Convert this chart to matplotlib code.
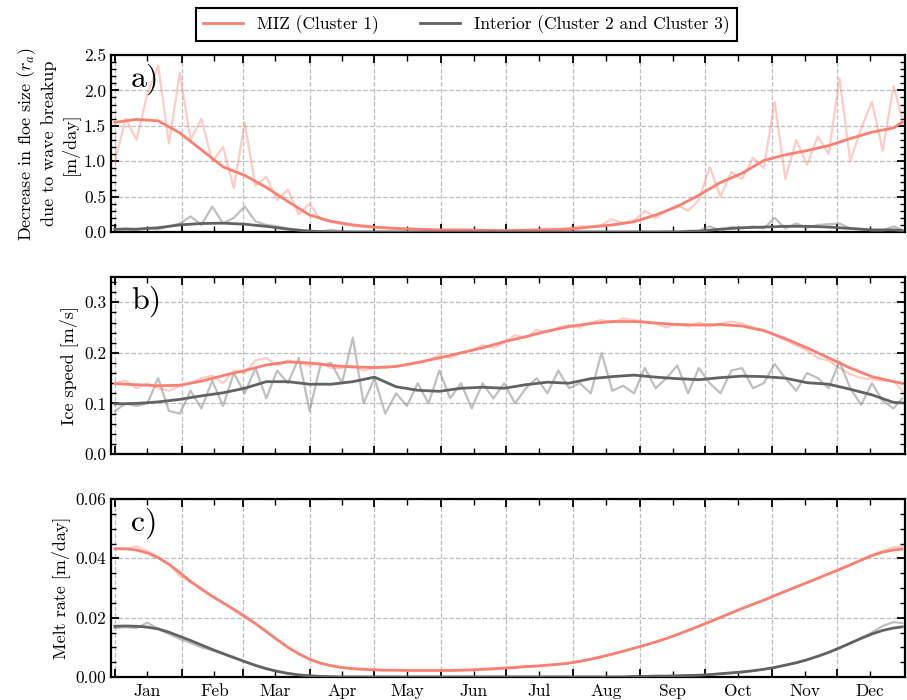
import numpy as np
import matplotlib
matplotlib.use("Agg")
import matplotlib.pyplot as plt
from matplotlib.ticker import AutoMinorLocator, FixedLocator, FixedFormatter, NullFormatter, MultipleLocator

plt.rcParams['font.family'] = 'serif'
plt.rcParams['font.serif'] = ['cmr10', 'DejaVu Serif']
plt.rcParams['mathtext.fontset'] = 'cm'
plt.rcParams['axes.formatter.use_mathtext'] = True

# ---------------- data ----------------
MONTHS = ['Jan', 'Feb', 'Mar', 'Apr', 'May', 'Jun', 'Jul', 'Aug', 'Sep', 'Oct', 'Nov', 'Dec']
MONTH_START = [0, 31, 59, 90, 120, 151, 181, 212, 243, 273, 304, 334]

DAYS_RAW = list(range(0, 361, 5)) + [364]
DAYS_SMOOTH = list(range(0, 361, 10)) + [364]

# a) decrease in floe size due to wave breakup [m/day]
miz_raw_a = [1.00, 1.60, 1.30, 1.95, 2.35, 1.25, 2.25, 1.30, 1.60, 1.00,
             1.20, 0.62, 1.55, 0.65, 0.78, 0.45, 0.60, 0.25, 0.40, 0.18,
             0.14, 0.11, 0.09, 0.07, 0.06, 0.05, 0.05, 0.04, 0.04, 0.03,
             0.03, 0.03, 0.03, 0.02, 0.03, 0.02, 0.02, 0.03, 0.03, 0.04,
             0.05, 0.04, 0.06, 0.08, 0.08, 0.10, 0.18, 0.12, 0.16, 0.30,
             0.20, 0.30, 0.38, 0.30, 0.45, 0.92, 0.50, 0.85, 0.75, 1.05,
             0.90, 1.84, 0.75, 1.30, 0.95, 1.35, 1.10, 2.17, 1.00, 1.46,
             1.84, 1.15, 2.06, 1.60]
int_raw_a = [0.03, 0.05, 0.03, 0.06, 0.04, 0.08, 0.12, 0.22, 0.10, 0.36,
             0.12, 0.20, 0.36, 0.15, 0.10, 0.08, 0.05, 0.03, 0.02, 0.01,
             0.03, 0.01, 0.00, 0.00, 0.00, 0.00, 0.00, 0.00, 0.00, 0.00,
             0.00, 0.00, 0.00, 0.00, 0.00, 0.00, 0.00, 0.00, 0.00, 0.00,
             0.00, 0.00, 0.00, 0.00, 0.00, 0.00, 0.00, 0.00, 0.00, 0.00,
             0.00, 0.01, 0.00, 0.02, 0.02, 0.08, 0.02, 0.07, 0.05, 0.08,
             0.05, 0.20, 0.05, 0.12, 0.06, 0.10, 0.11, 0.12, 0.05, 0.04,
             0.02, 0.02, 0.08, 0.03]
miz_smooth_a = [1.55, 1.59, 1.57, 1.40, 1.16, 0.92, 0.80, 0.63, 0.43, 0.24,
                0.15, 0.10, 0.07, 0.05, 0.04, 0.03, 0.03, 0.025, 0.02, 0.025,
                0.03, 0.04, 0.07, 0.10, 0.145, 0.24, 0.36, 0.52, 0.70, 0.83,
                1.01, 1.09, 1.15, 1.22, 1.32, 1.41, 1.47, 1.55]
int_smooth_a = [0.04, 0.04, 0.06, 0.10, 0.12, 0.125, 0.11, 0.08, 0.04, 0.01,
                0.0, 0.0, 0.0, 0.0, 0.0, 0.0, 0.0, 0.0, 0.0, 0.0,
                0.0, 0.0, 0.0, 0.0, 0.0, 0.0, 0.0, 0.01, 0.04, 0.06,
                0.07, 0.08, 0.08, 0.07, 0.05, 0.03, 0.03, 0.02]

# b) ice speed [m/s]
miz_raw_b = [0.140, 0.145, 0.130, 0.140, 0.130, 0.125, 0.135, 0.140, 0.150, 0.155,
             0.140, 0.165, 0.160, 0.185, 0.190, 0.175, 0.185, 0.180, 0.175, 0.180,
             0.170, 0.170, 0.175, 0.165, 0.170, 0.170, 0.175, 0.175, 0.180, 0.185,
             0.195, 0.190, 0.200, 0.205, 0.215, 0.210, 0.220, 0.235, 0.230, 0.245,
             0.240, 0.250, 0.255, 0.250, 0.260, 0.265, 0.260, 0.268, 0.265, 0.262,
             0.258, 0.250, 0.258, 0.252, 0.260, 0.252, 0.258, 0.262, 0.258, 0.250,
             0.245, 0.235, 0.225, 0.215, 0.205, 0.190, 0.185, 0.170, 0.158, 0.150,
             0.148, 0.145, 0.145, 0.125]
int_raw_b = [0.085, 0.100, 0.095, 0.100, 0.150, 0.085, 0.080, 0.125, 0.090, 0.145,
             0.095, 0.160, 0.120, 0.170, 0.110, 0.165, 0.140, 0.190, 0.085, 0.175,
             0.180, 0.140, 0.230, 0.100, 0.150, 0.080, 0.120, 0.095, 0.140, 0.100,
             0.165, 0.110, 0.140, 0.090, 0.140, 0.110, 0.140, 0.100, 0.130, 0.150,
             0.120, 0.165, 0.130, 0.140, 0.120, 0.200, 0.125, 0.135, 0.120, 0.170,
             0.130, 0.150, 0.175, 0.120, 0.170, 0.140, 0.120, 0.165, 0.170, 0.130,
             0.140, 0.178, 0.150, 0.125, 0.160, 0.150, 0.130, 0.183, 0.130, 0.097,
             0.140, 0.105, 0.090, 0.110]
miz_smooth_b = [0.139, 0.137, 0.135, 0.136, 0.144, 0.155, 0.165, 0.176, 0.182, 0.180,
                0.175, 0.172, 0.171, 0.173, 0.181, 0.190, 0.200, 0.210, 0.222, 0.232,
                0.243, 0.252, 0.258, 0.262, 0.262, 0.259, 0.256, 0.255, 0.256, 0.253,
                0.244, 0.228, 0.210, 0.190, 0.170, 0.153, 0.143, 0.140]
int_smooth_b = [0.099, 0.100, 0.103, 0.108, 0.115, 0.121, 0.130, 0.143, 0.143, 0.138,
                0.138, 0.143, 0.152, 0.133, 0.126, 0.124, 0.130, 0.132, 0.130, 0.137,
                0.142, 0.140, 0.149, 0.153, 0.156, 0.152, 0.149, 0.147, 0.151, 0.154,
                0.153, 0.150, 0.141, 0.138, 0.128, 0.117, 0.102, 0.101]

# c) melt rate [m/day]  (smooth curves given on the 5-day grid)
miz_raw_c = [0.0435, 0.0432, 0.0440, 0.0425, 0.0405, 0.0380, 0.0340, 0.0320, 0.0300, 0.0270,
             0.0250, 0.0225, 0.0200, 0.0180, 0.0155, 0.0125, 0.0100, 0.0078, 0.0060, 0.0045,
             0.0038, 0.0032, 0.0028, 0.0026, 0.0024, 0.0023, 0.0023, 0.0022, 0.0022, 0.0021,
             0.0022, 0.0022, 0.0023, 0.0023, 0.0025, 0.0026, 0.0029, 0.0033, 0.0036, 0.0036,
             0.0040, 0.0042, 0.0046, 0.0052, 0.0060, 0.0070, 0.0078, 0.0087, 0.0098, 0.0108,
             0.0118, 0.0130, 0.0142, 0.0158, 0.0172, 0.0186, 0.0202, 0.0216, 0.0232, 0.0246,
             0.0259, 0.0276, 0.0289, 0.0302, 0.0318, 0.0332, 0.0348, 0.0360, 0.0378, 0.0395,
             0.0412, 0.0425, 0.0438, 0.0440]
int_raw_c = [0.0165, 0.0168, 0.0165, 0.0183, 0.0162, 0.0145, 0.0128, 0.0115, 0.0100, 0.0090,
             0.0078, 0.0068, 0.0052, 0.0040, 0.0028, 0.0020, 0.0013, 0.0008, 0.0005, 0.0002,
             0.0001, 0.0, 0.0, 0.0, 0.0, 0.0, 0.0, 0.0, 0.0, 0.0,
             0.0, 0.0, 0.0, 0.0, 0.0, 0.0, 0.0, 0.0, 0.0, 0.0,
             0.0, 0.0, 0.0, 0.0, 0.0, 0.0, 0.0001, 0.0001, 0.0002, 0.0002,
             0.0003, 0.0003, 0.0004, 0.0005, 0.0006, 0.0008, 0.0011, 0.0013, 0.0017, 0.0021,
             0.0026, 0.0033, 0.0040, 0.0048, 0.0058, 0.0070, 0.0083, 0.0098, 0.0114, 0.0132,
             0.0150, 0.0172, 0.0185, 0.0182]
miz_smooth_c = [0.0432, 0.0432, 0.0428, 0.0418, 0.0402, 0.0380, 0.0352, 0.0322, 0.0296, 0.0272,
                0.0250, 0.0228, 0.0205, 0.0180, 0.0153, 0.0126, 0.0100, 0.0078, 0.0060, 0.0047,
                0.0038, 0.0032, 0.0028, 0.0026, 0.0024, 0.0023, 0.0023, 0.0022, 0.0022, 0.0022,
                0.0022, 0.0022, 0.0023, 0.0024, 0.0026, 0.0028, 0.0030, 0.0032, 0.0035, 0.0037,
                0.0040, 0.0043, 0.0047, 0.0053, 0.0060, 0.0068, 0.0077, 0.0087, 0.0097, 0.0107,
                0.0118, 0.0130, 0.0143, 0.0157, 0.0171, 0.0186, 0.0201, 0.0216, 0.0231, 0.0245,
                0.0259, 0.0274, 0.0289, 0.0304, 0.0318, 0.0333, 0.0348, 0.0363, 0.0378, 0.0394,
                0.0409, 0.0421, 0.0428, 0.0431]
int_smooth_c = [0.0171, 0.0172, 0.0171, 0.0168, 0.0162, 0.0151, 0.0137, 0.0123, 0.0108, 0.0093,
                0.0079, 0.0065, 0.0052, 0.0039, 0.0028, 0.0019, 0.0012, 0.0007, 0.0004, 0.0002,
                0.0001, 0.0, 0.0, 0.0, 0.0, 0.0, 0.0, 0.0, 0.0, 0.0,
                0.0, 0.0, 0.0, 0.0, 0.0, 0.0, 0.0, 0.0, 0.0, 0.0,
                0.0, 0.0, 0.0, 0.0, 0.0, 0.0, 0.0, 0.0, 0.0002, 0.0002,
                0.0003, 0.0003, 0.0004, 0.0005, 0.0006, 0.0008, 0.0011, 0.0014, 0.0017, 0.0021,
                0.0026, 0.0032, 0.0040, 0.0048, 0.0058, 0.0070, 0.0083, 0.0098, 0.0114, 0.0130,
                0.0145, 0.0157, 0.0165, 0.0169]

LABEL_MIZ = 'MIZ (Cluster 1)'
LABEL_INT = 'Interior (Cluster 2 and Cluster 3)'

# ---------------- style ----------------
C_MIZ = '#fa8072'
C_INT = '#626262'

fig = plt.figure(figsize=(9.07, 7.0), dpi=100)
W = 907.0
H = 700.0
left, right = 111 / W, 905 / W
boxes = [(55, 232), (277, 454), (499, 677)]
axes = []
for top, bot in boxes:
    axes.append(fig.add_axes([left, 1 - bot / H, right - left, (bot - top) / H]))

panels = [
    (miz_raw_a, miz_smooth_a, int_raw_a, int_smooth_a, DAYS_SMOOTH, (0, 2.5), 0.5, 5, '%.1f',
     'Decrease in floe size ($r_a$)\ndue to wave breakup\n[m/day]', 'a)'),
    (miz_raw_b, miz_smooth_b, int_raw_b, int_smooth_b, DAYS_SMOOTH, (0, 0.35), 0.1, 5, '%.1f',
     'Ice speed [m/s]', 'b)'),
    (miz_raw_c, miz_smooth_c, int_raw_c, int_smooth_c, DAYS_RAW, (0, 0.06), 0.02, 4, '%.2f',
     'Melt rate [m/day]', 'c)'),
]

mid_month = [s + 15 for s in MONTH_START]

for i, (ax, p) in enumerate(zip(axes, panels)):
    mr, ms, ir, ism, sdays, ylim, maj, nmin, fmt, ylabel, tag = p
    ax.plot(DAYS_RAW, mr, color=C_MIZ, alpha=0.4, lw=1.6, zorder=2)
    l1, = ax.plot(sdays, ms, color=C_MIZ, lw=2.0, zorder=4, label=LABEL_MIZ)
    ax.plot(DAYS_RAW, ir, color='gray', alpha=0.5, lw=1.6, zorder=3)
    l2, = ax.plot(sdays, ism, color=C_INT, lw=2.0, zorder=5, label=LABEL_INT)

    ax.set_xlim(-1.8, 365.3)
    ax.set_ylim(*ylim)
    ax.xaxis.set_major_locator(FixedLocator(MONTH_START))
    ax.xaxis.set_major_formatter(NullFormatter())
    ax.xaxis.set_minor_locator(FixedLocator(mid_month))
    if i == 2:
        ax.xaxis.set_minor_formatter(FixedFormatter(MONTHS))
    else:
        ax.xaxis.set_minor_formatter(NullFormatter())
    ax.yaxis.set_major_locator(MultipleLocator(maj))
    ax.yaxis.set_minor_locator(AutoMinorLocator(nmin))
    ax.yaxis.set_major_formatter(matplotlib.ticker.FormatStrFormatter(fmt))

    ax.tick_params(which='both', direction='in', top=True, right=True, labelsize=12.5)
    ax.tick_params(which='major', length=6, width=1.3)
    ax.tick_params(which='minor', length=3.5, width=1.0)
    ax.tick_params(axis='x', which='minor', length=4, pad=5)
    ax.grid(True, which='major', linestyle='--', color='#b0b0b0', linewidth=0.9, alpha=0.8)
    for s in ax.spines.values():
        s.set_linewidth(1.6)
    ax.set_ylabel(ylabel, fontsize=13)
    ax.text(0.025, 0.95, tag, transform=ax.transAxes, fontsize=23, va='top', ha='left')

leg = fig.legend(handles=[l1, l2], loc='upper left', bbox_to_anchor=(196 / W, 1 - 8 / H),
                 borderaxespad=0.0, ncol=2, fontsize=12.5, frameon=True, fancybox=False,
                 edgecolor='black', framealpha=1, handlelength=2.3, columnspacing=2.4,
                 borderpad=0.4)
leg.get_frame().set_linewidth(1.5)

fig.savefig('out.png', dpi=100)
